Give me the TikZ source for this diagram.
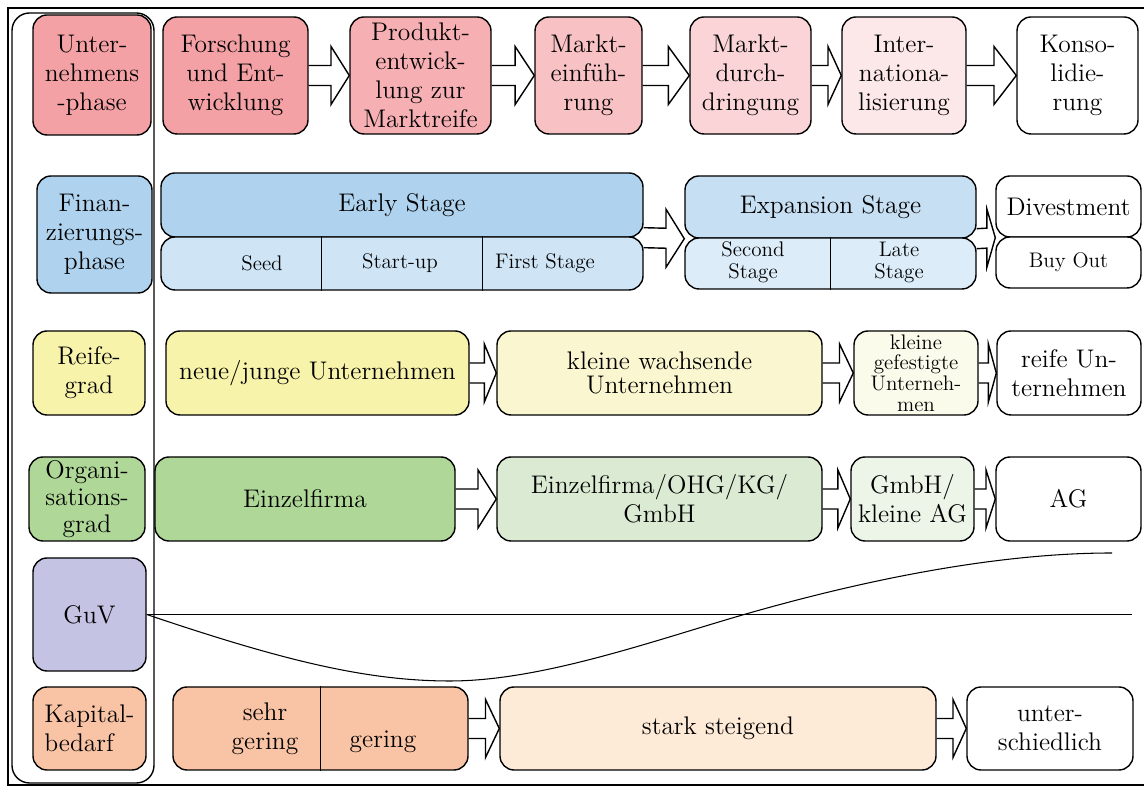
\documentclass[tikz,border=0pt]{standalone}
\usepackage{tikz}
\usetikzlibrary{positioning,calc,backgrounds}
\definecolor{redA}{HTML}{F4A1A6}
\definecolor{redB}{HTML}{F6AFB3}
\definecolor{redC}{HTML}{F8C1C4}
\definecolor{redD}{HTML}{FAD4D6}
\definecolor{redE}{HTML}{FCE8E9}
\definecolor{blueA}{HTML}{AFD3EE}
\definecolor{blueB}{HTML}{CFE5F6}
\definecolor{blueC}{HTML}{C7DFF3}
\definecolor{blueD}{HTML}{DCECF8}
\definecolor{yellowA}{HTML}{F7F3AA}
\definecolor{yellowB}{HTML}{FAF7D0}
\definecolor{yellowC}{HTML}{FBFBEB}
\definecolor{greenA}{HTML}{AFD797}
\definecolor{greenB}{HTML}{DBEBD3}
\definecolor{greenC}{HTML}{EDF5E9}
\definecolor{guvpurple}{HTML}{C4C3E3}
\definecolor{orangeA}{HTML}{F8C4A5}
\definecolor{orangeB}{HTML}{FDEAD7}

\begin{document}
\begin{tikzpicture}[
    phasebox/.style={draw, rounded corners=8pt, line width=0.8pt, align=center,
                 inner sep=1pt, font=\fontsize{14.5}{16.5}\selectfont},
    smalltext/.style={inner sep=1pt, align=center, font=\fontsize{12}{13}\selectfont},
    blockarrow/.style={draw, line width=0.8pt, fill=white, line join=miter},
]
\useasboundingbox (0,0) rectangle (22.88,15.74);

% frame and left column
\draw[line width=1.4pt] (23.2,15.58) -- (0.16,15.58) -- (0.16,0.04) -- (23.2,0.04);
\draw[line width=0.8pt, rounded corners=10pt] (0.24,0.08) rectangle (3.08,15.48);

% Unternehmensphase
\node[phasebox, fill=redA, minimum width=2.36cm, minimum height=2.4cm] (uphase) at (1.84,14.24) {Unter-\\nehmens\\-phase};
\node[phasebox, fill=redA, minimum width=2.9cm, minimum height=2.34cm] (fue) at (4.71,14.23) {Forschung\\und Ent-\\wicklung};
\node[phasebox, fill=redB, minimum width=2.82cm, minimum height=2.34cm] (prod) at (8.41,14.23) {Produkt-\\entwick-\\lung zur\\Marktreife};
\node[phasebox, fill=redC, minimum width=2.14cm, minimum height=2.34cm] (einf) at (11.77,14.23) {Markt-\\einfüh-\\rung};
\node[phasebox, fill=redD, minimum width=2.42cm, minimum height=2.34cm] (durch) at (15.01,14.23) {Markt-\\durch-\\dringung};
\node[phasebox, fill=redE, minimum width=2.48cm, minimum height=2.34cm] (intl) at (18.08,14.23) {Inter-\\nationa-\\lisierung};
\node[phasebox, fill=white, minimum width=2.42cm, minimum height=2.34cm] (kons) at (21.55,14.23) {Konso-\\lidie-\\rung};

% Finanzierungsphase
\node[phasebox, fill=blueA, minimum width=2.3cm, minimum height=2.34cm] (fphase) at (1.89,11.05) {Finan-\\zierungs-\\phase};
\node[phasebox, fill=blueA, minimum width=9.64cm, minimum height=1.28cm] (early) at (8.04,11.64) {Early Stage};
\node[phasebox, fill=blueB, minimum width=9.64cm, minimum height=1.06cm] (earlylow) at (8.04,10.47) {};
\draw[line width=0.5pt] ($(earlylow.north west)!1/3!(earlylow.north east)$) -- ($(earlylow.south west)!1/3!(earlylow.south east)$);
\draw[line width=0.5pt] ($(earlylow.north west)!2/3!(earlylow.north east)$) -- ($(earlylow.south west)!2/3!(earlylow.south east)$);
\node[smalltext] (seed) at (5.24,10.48) {Seed};
\node[smalltext] (startup) at (8.0,10.48) {Start-up};
\node[smalltext] (first) at (10.9,10.48) {First Stage};
\node[phasebox, fill=blueC, minimum width=5.82cm, minimum height=1.24cm] (expan) at (16.61,11.6) {Expansion Stage};
\node[phasebox, fill=blueD, minimum width=5.82cm, minimum height=1.02cm] (expanlow) at (16.61,10.47) {};
\draw[line width=0.5pt] (expanlow.north) -- (expanlow.south);
\node[smalltext, font=\fontsize{12}{12.5}\selectfont] (second) at (15.06,10.5) {Second\\Stage};
\node[smalltext, font=\fontsize{12}{12.5}\selectfont] (late) at (17.98,10.5) {Late\\Stage};
\node[phasebox, fill=white, minimum width=2.9cm, minimum height=1.22cm] (divest) at (21.37,11.61) {Divestment};
\node[phasebox, fill=white, minimum width=2.9cm, minimum height=1.02cm, font=\fontsize{12}{13}\selectfont] (buyout) at (21.37,10.49) {Buy Out};

% Reifegrad
\node[phasebox, fill=yellowA, minimum width=2.24cm, minimum height=1.68cm] (rgrad) at (1.78,8.28) {Reife-\\grad};
\node[phasebox, fill=yellowA, minimum width=6.06cm, minimum height=1.68cm] (neu) at (6.35,8.28) {neue/junge Unternehmen};
\node[phasebox, fill=yellowB, minimum width=6.5cm, minimum height=1.68cm, font=\fontsize{14.5}{14}\selectfont] (klein) at (13.19,8.28) {kleine wachsende\\Unternehmen};
\node[phasebox, fill=yellowC, minimum width=2.48cm, minimum height=1.68cm, font=\fontsize{12}{11.8}\selectfont] (gefest) at (18.32,8.28) {kleine\\gefestigte\\Unterneh-\\men};
\node[phasebox, fill=white, minimum width=2.88cm, minimum height=1.68cm] (reifu) at (21.38,8.28) {reife Un-\\ternehmen};

% Organisationsgrad
\node[phasebox, fill=greenA, minimum width=2.32cm, minimum height=1.68cm, font=\fontsize{14.5}{15.2}\selectfont] (ograd) at (1.74,5.76) {Organi-\\sations-\\grad};
\node[phasebox, fill=greenA, minimum width=6.0cm, minimum height=1.68cm] (einzel) at (6.1,5.76) {Einzelfirma};
\node[phasebox, fill=greenB, minimum width=6.5cm, minimum height=1.68cm] (ohg) at (13.19,5.76) {Einzelfirma/OHG/KG/\\GmbH};
\node[phasebox, fill=greenC, minimum width=2.46cm, minimum height=1.68cm] (gmbh) at (18.25,5.76) {GmbH/\\kleine AG};
\node[phasebox, fill=white, minimum width=2.9cm, minimum height=1.68cm] (ag) at (21.37,5.76) {AG};

% GuV
\node[phasebox, fill=guvpurple, minimum width=2.26cm, minimum height=2.26cm] (guv) at (1.79,3.45) {GuV};
\coordinate (axisend) at (22.64,3.45);
\draw[line width=0.6pt] (guv.east) -- (axisend);
\draw[line width=0.6pt] (guv.east) .. controls (5.6,2.55) and (7.3,2.12) .. (9.0,2.12)
    .. controls (10.8,2.12) and (13.0,2.9) .. (14.78,3.42)
    .. controls (16.5,3.92) and (19.5,4.68) .. (22.24,4.68);

% Kapitalbedarf
\node[phasebox, fill=orangeA, minimum width=2.26cm, minimum height=1.66cm, align=left] (kbedarf) at (1.79,1.17) {Kapital-\\bedarf};
\node[phasebox, fill=orangeA, minimum width=5.9cm, minimum height=1.66cm] (gering) at (6.41,1.17) {};
\draw[line width=0.5pt] (gering.north) -- (gering.south);
\node[inner sep=1pt, align=center, font=\fontsize{14.5}{16.5}\selectfont] (sehr) at (5.3,1.17) {sehr\\gering};
\node[inner sep=1pt, anchor=base, font=\fontsize{14.5}{16.5}\selectfont] (gering2) at (7.66,0.78) {gering};
\node[phasebox, fill=orangeB, minimum width=8.72cm, minimum height=1.66cm] (stark) at (14.36,1.17) {stark steigend};
\node[phasebox, fill=white, minimum width=3.32cm, minimum height=1.66cm] (unter) at (21.0,1.17) {unter-\\schiedlich};

% block arrows
\begin{scope}[on background layer]
\foreach \a/\b in {fue.east/prod.west, prod.east/einf.west, einf.east/durch.west, durch.east/intl.west, intl.east/kons.west,
    early.south east/expan.south west, expan.south east/divest.south west,
    neu.east/klein.west, klein.east/gefest.west, gefest.east/reifu.west,
    einzel.east/ohg.west, ohg.east/gmbh.west, gmbh.east/ag.west,
    gering.east/stark.west, stark.east/unter.west}
  \draw[blockarrow] ($(\a)+(0,.2)$) -- ($(\a)!.55!(\b)+(0,.2)$) -- ($(\a)!.55!(\b)+(0,.58)$) -- (\b)
    -- ($(\a)!.55!(\b)+(0,-.58)$) -- ($(\a)!.55!(\b)+(0,-.2)$) -- ($(\a)+(0,-.2)$);
\end{scope}
\end{tikzpicture}
\end{document}
